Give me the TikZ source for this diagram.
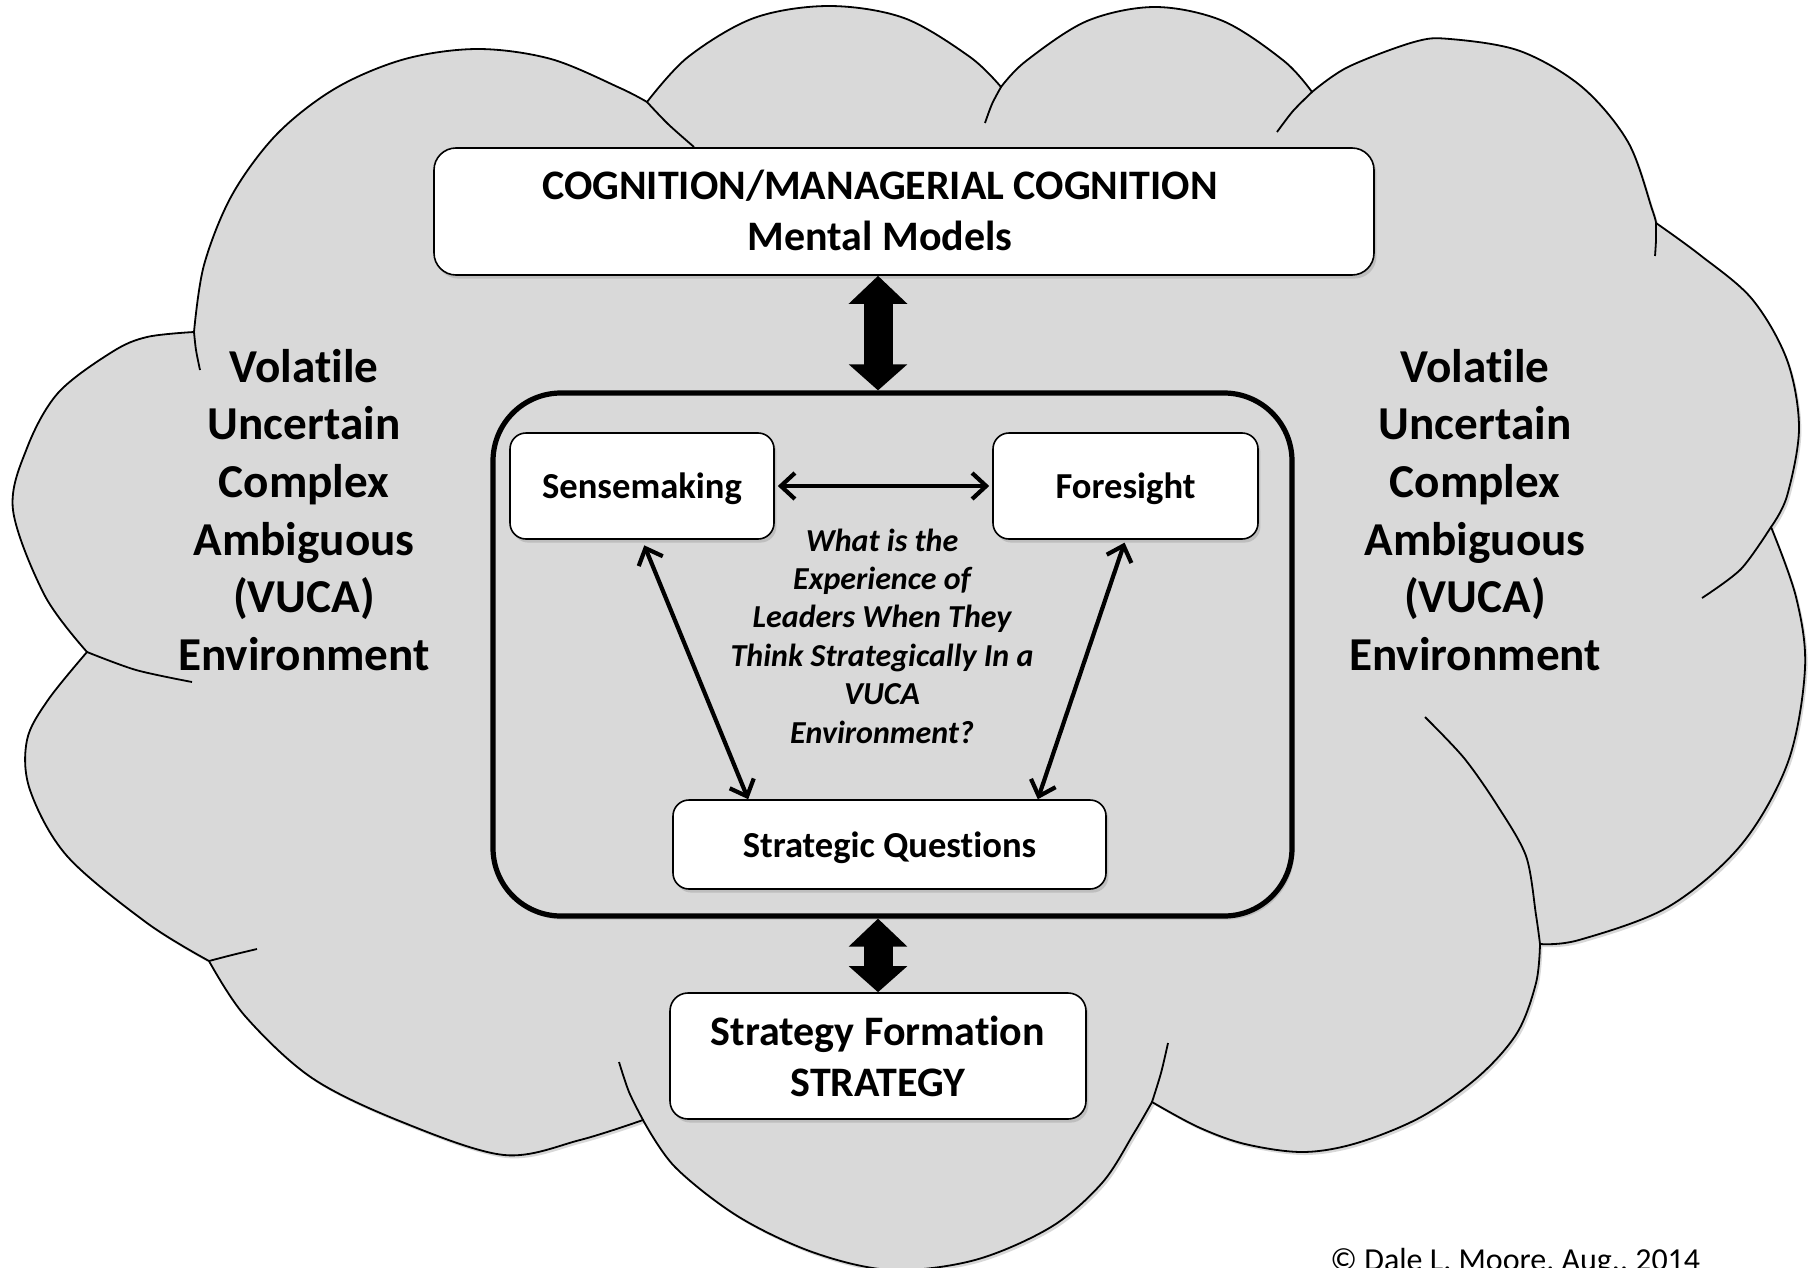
\documentclass[tikz,border=0pt]{standalone}
\usepackage{fontspec}
\setmainfont{Carlito}[Ligatures=NoCommon]
\usetikzlibrary{arrows.meta,shadows}
\definecolor{cloudgray}{HTML}{D9D9D9}
\tikzset{
  cloudst/.style={draw=black, line width=0.9pt, fill=cloudgray,
    drop shadow={shadow xshift=1.2pt, shadow yshift=-1.5pt, opacity=0.3}},
  creasest/.style={draw=black, line width=0.9pt},
  boxst/.style={draw=black, line width=0.8pt, fill=white, rounded corners=8pt, inner sep=0pt, align=center,
    drop shadow={shadow xshift=1.2pt, shadow yshift=-1.8pt, opacity=0.3}},
  innerst/.style={draw=black, line width=2.6pt, fill=cloudgray, rounded corners=34pt, inner sep=0pt,
    drop shadow={shadow xshift=1.2pt, shadow yshift=-1.8pt, opacity=0.3}},
  boxfont/.style={font=\fontsize{18.3pt}{22pt}\selectfont\bfseries, text depth=0pt},
  bigfont/.style={font=\fontsize{21pt}{25.5pt}\selectfont\bfseries},
  vuca/.style={font=\fontsize{23.6pt}{28.8pt}\selectfont\bfseries, align=center, inner sep=0pt},
  question/.style={font=\fontsize{16pt}{19.2pt}\selectfont\bfseries\itshape, align=center, inner sep=0pt},
  thinarr/.style={line width=2.1pt, {Straight Barb[length=7pt,width=13pt]}-{Straight Barb[length=7pt,width=13pt]}},
  bigarr/.style={line width=14.5pt, {Triangle[length=14pt,width=28.5pt]}-{Triangle[length=13pt,width=28.5pt]}}
}
\begin{document}
\begin{tikzpicture}[x=0.5pt, y=-0.5pt]
\useasboundingbox (0,0) rectangle (1814,1268);
\clip (0,0) rectangle (1814,1268);
\fill[white] (0,0) rectangle (1814,1268);

% cloud outline
\path[cloudst]
  plot[smooth, tension=0.55] coordinates {(194,332) (204,265) (232,195) (277,134) (336,88) (405,59) (478,49) (551,59) (620,88) (647,102)}
  -- plot[smooth, tension=0.55] coordinates {(647,102) (688,57) (754,18) (829,6) (904,18) (970,57) (1001,87)}
  -- plot[smooth, tension=0.55] coordinates {(1001,87) (1026,61) (1087,21) (1155,7) (1223,21) (1284,61) (1312,92)}
  -- plot[smooth, tension=0.55] coordinates {(1312,92) (1348,67) (1414,42) (1450,39) (1520,51) (1582,87) (1628,142) (1652,209) (1656,223)}
  -- plot[smooth, tension=0.55] coordinates {(1656,223) (1700,255) (1752,299) (1787,360) (1799,428) (1787,496) (1771,527)}
  -- plot[smooth, tension=0.55] coordinates {(1771,527) (1796,597) (1805,668) (1788,762) (1741,845) (1668,907) (1579,940) (1540,944)}
  -- plot[smooth, tension=0.55] coordinates {(1540,944) (1536,983) (1517,1033) (1478,1077) (1421,1117) (1357,1143) (1303,1152) (1245,1144) (1198,1127) (1152,1102)}
  -- plot[smooth, tension=0.55] coordinates {(1152,1102) (1134,1133) (1102,1183) (1051,1227) (975,1260) (892,1270) (815,1253) (739,1217) (675,1167) (643,1120)}
  -- plot[smooth, tension=0.55] coordinates {(643,1120) (580,1140) (504,1155) (402,1122) (312,1078) (245,1016) (209,961)}
  -- plot[smooth, tension=0.55] coordinates {(209,961) (147,923) (67,856) (30,790) (27,740) (48,700) (87,652)}
  -- plot[smooth, tension=0.55] coordinates {(87,652) (45,596) (13,510) (27,448) (58,393) (112,352) (147,337) (194,332)}
  -- cycle;

% cloud creases
\draw[creasest] plot[smooth] coordinates {(194,332) (196,350) (200,370)};
\draw[creasest] plot[smooth] coordinates {(647,102) (668,124) (694,147)};
\draw[creasest] plot[smooth] coordinates {(1001,87) (992,104) (985,123)};
\draw[creasest] plot[smooth] coordinates {(1312,92) (1293,111) (1277,132)};
\draw[creasest] plot[smooth] coordinates {(1656,223) (1656,240) (1655,256)};
\draw[creasest] plot[smooth] coordinates {(1771,527) (1741,569) (1702,598)};
\draw[creasest] plot[smooth] coordinates {(1540,944) (1536,915) (1526,856) (1497,805) (1464,758) (1425,717)};
\draw[creasest] plot[smooth] coordinates {(1152,1102) (1161,1073) (1168,1043)};
\draw[creasest] plot[smooth] coordinates {(643,1120) (629,1092) (619,1062)};
\draw[creasest] plot[smooth] coordinates {(209,961) (232,955) (257,949)};
\draw[creasest] plot[smooth] coordinates {(87,652) (136,670) (192,682)};

% side texts
\node[vuca] (vleft) at (304,510) {Volatile\\Uncertain\\Complex\\Ambiguous\\(VUCA)\\Environment};
\node[vuca] (vright) at (1475,510) {Volatile\\Uncertain\\Complex\\Ambiguous\\(VUCA)\\Environment};

% inner frame
\node[innerst, minimum width=399.5pt, minimum height=261.5pt] (inner) at (892.5,654.5) {};

% boxes
\node[boxst, rounded corners=11pt, minimum width=470pt, minimum height=63.5pt] (topbox) at (904,211.5) {};
\node[bigfont, align=center, inner sep=0pt] (toptext) at (880,210) {COGNITION/MANAGERIAL COGNITION\\Mental Models};
\node[boxst, boxfont, minimum width=132pt, minimum height=53pt] (sense) at (642,486) {Sensemaking};
\node[boxst, boxfont, minimum width=132.5pt, minimum height=53pt] (fore) at (1125.5,486) {Foresight};
\node[boxst, boxfont, minimum width=216.5pt, minimum height=44.5pt] (sq) at (889.5,844.5) {Strategic Questions};
\node[boxst, bigfont, rounded corners=9pt, minimum width=208pt, minimum height=63pt] (sf) at (878,1056) {Strategy Formation\\STRATEGY};

% question
\node[question] (q) at (882,636) {What is the\\Experience of\\Leaders When They\\Think Strategically In a\\VUCA\\Environment?};

% big double arrows
\coordinate (ax) at (878,0);
\draw[bigarr] (topbox.south -| ax) -- (inner.north -| ax);
\draw[bigarr] (inner.south -| ax) -- (sf.north -| ax);

% thin double arrows
\draw[thinarr, shorten <=1.5pt, shorten >=1.5pt] (sense.east) -- (fore.west);
\draw[thinarr, shorten <=3pt] (sense.south) -- ([xshift=38pt]sq.north west);
\draw[thinarr, shorten <=1.5pt] (fore.south) -- ([xshift=-34.5pt]sq.north east);

% copyright
\node[anchor=base west, font=\fontsize{16pt}{19pt}\selectfont, inner sep=0pt] (copy) at (1330,1270) {© Dale L. Moore, Aug., 2014};
\end{tikzpicture}
\end{document}
